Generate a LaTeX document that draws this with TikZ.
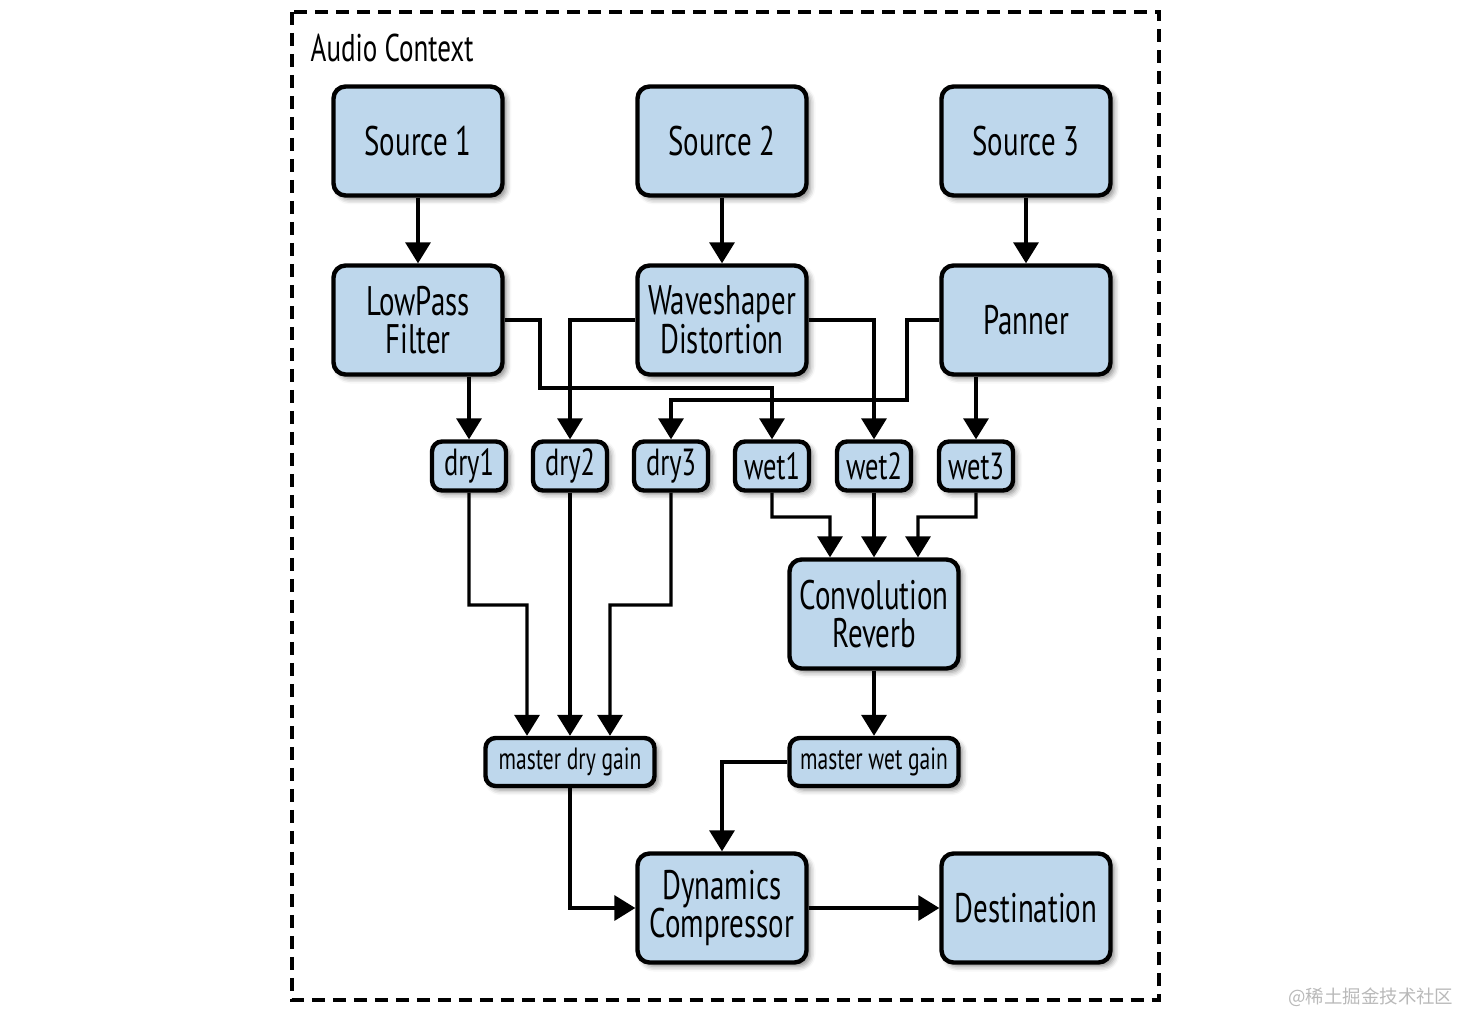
\documentclass[tikz,border=0pt]{standalone}
\usepackage{fontspec}
\setmainfont[FakeStretch=0.7]{PT Sans}
\newfontfamily\cjkfont{Noto Sans CJK SC}
\usepackage{tikz}
\usetikzlibrary{arrows.meta, shadows.blur}
\definecolor{boxblue}{RGB}{190,215,236}
\tikzset{
    proc/.style={rectangle, rounded corners=0.24cm, draw=black, fill=boxblue, line width=2.5pt, minimum width=3.38cm, minimum height=2.18cm, align=center, font=\fontsize{23.5}{22}\selectfont, blur shadow={shadow xshift=0.08cm, shadow yshift=-0.08cm, shadow blur radius=0.1cm, shadow opacity=45}},
    tap/.style={proc, rounded corners=0.2cm, minimum width=1.48cm, minimum height=0.98cm, inner sep=2pt, font=\fontsize{21.5}{21}\selectfont},
    mix/.style={proc, rounded corners=0.2cm, minimum width=3.38cm, minimum height=0.96cm, inner sep=2pt, font=\fontsize{17.5}{17}\selectfont},
}
\begin{document}
\begin{tikzpicture}[x=0.02cm, y=-0.02cm, >={Triangle[length=0.42cm, width=0.5cm]}, line width=1.9pt]
        \useasboundingbox (0,0) rectangle (1462,1014);
        \draw[line width=2.3pt, dash pattern=on 0.26cm off 0.16cm] (292,12) rectangle (1159,1000);
        \node[anchor=west, inner sep=0pt, font=\fontsize{22}{22}\selectfont] (ctx) at (309,48) {Audio Context};
        \node [proc] (src1) at (418,141) {Source 1};
        \node [proc] (src2) at (722,141) {Source 2};
        \node [proc] (src3) at (1026,141) {Source 3};
        \node [proc] (lp) at (418,320) {LowPass\\Filter};
        \node [proc] (ws) at (722,320) {Waveshaper\\Distortion};
        \node [proc] (pan) at (1026,320) {Panner};
        \node [tap] (dry1) at (469,466) {dry1};
        \node [tap] (dry2) at (570,466) {dry2};
        \node [tap] (dry3) at (671,466) {dry3};
        \node [tap] (wet1) at (772,466) {wet1};
        \node [tap] (wet2) at (874,466) {wet2};
        \node [tap] (wet3) at (976,466) {wet3};
        \node [proc] (rev) at (874,614) {Convolution\\Reverb};
        \node [mix] (mdg) at (570,762) {master dry gain};
        \node [mix] (mwg) at (874,762) {master wet gain};
        \node [proc] (comp) at (722,908) {Dynamics\\Compressor};
        \node [proc] (dest) at (1026,908) {Destination};
        \node [anchor=east, inner sep=0pt, text=gray!55, font=\cjkfont\fontsize{10.5}{10.5}\selectfont] (mark) at (1455,997) {@稀土掘金技术社区};
        \draw[->] (src1) -- (lp);
        \draw[->] (src2) -- (ws);
        \draw[->] (src3) -- (pan);
        \draw[->] (dry1 |- lp.south) -- (dry1);
        \draw[->] (lp.east) -| (540,388) -| (wet1);
        \draw[->] (ws.west) -| (dry2);
        \draw[->] (ws.east) -| (wet2);
        \draw[->] (pan.west) -| (907,400) -| (dry3);
        \draw[->] (wet3 |- pan.south) -- (wet3);
        \draw[->] (dry1) |- (527,605) -- ([xshift=-0.86cm]mdg.north);
        \draw[->] (dry2) -- (mdg);
        \draw[->] (dry3) |- (610,605) -- ([xshift=0.8cm]mdg.north);
        \draw[->] (wet1) |- (830,517) -- ([xshift=-0.88cm]rev.north);
        \draw[->] (wet2) -- (rev);
        \draw[->] (wet3) |- (918,517) -- ([xshift=0.88cm]rev.north);
        \draw[->] (rev) -- (mwg);
        \draw[->] (mwg.west) -| (comp);
        \draw[->] (mdg) |- (comp.west);
        \draw[->] (comp) -- (dest);
    \end{tikzpicture}
\end{document}
